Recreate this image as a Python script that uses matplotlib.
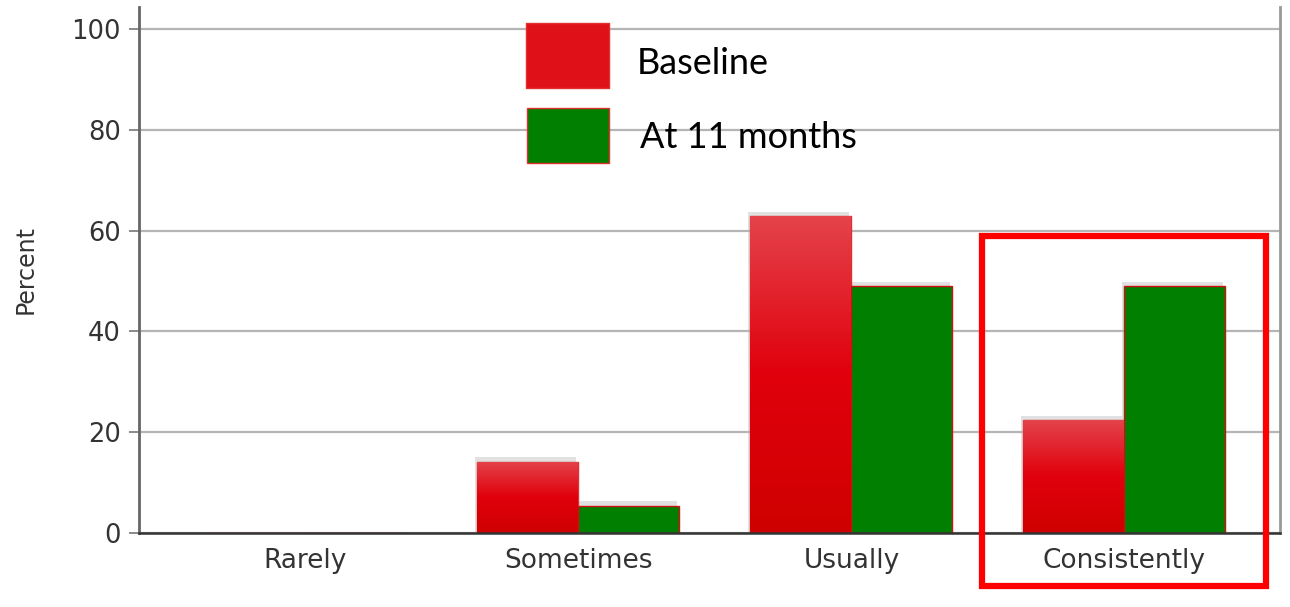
import numpy as np
import matplotlib
matplotlib.use("Agg")
import matplotlib.pyplot as plt
from matplotlib.patches import Rectangle
from matplotlib.colors import LinearSegmentedColormap

categories = ["Rarely", "Sometimes", "Usually", "Consistently"]
baseline = [0, 14.1, 62.9, 22.4]
month11 = [0, 5.4, 49.0, 49.0]
series_labels = ["Baseline", "At 11 months"]

RED_TOP = "#e4434b"
RED = "#e0000c"
RED_BOT = "#cf0000"
GREEN = "#007f00"

fig = plt.figure(figsize=(12.9, 6.07), dpi=100)
ax = fig.add_axes([139/1290, 1 - 533/607, (1280 - 139)/1290, (533 - 7)/607])

x = np.arange(len(categories))
w = 0.37

# soft shadow behind bars (up and to the left)
for vals, off in ((baseline, -w/2), (month11, w/2)):
    for xi, v in zip(x, vals):
        if v > 0:
            ax.add_patch(Rectangle((xi + off - w/2 - 0.008, 0), w, v + 0.9,
                                   facecolor="#bdbdbd", edgecolor="none",
                                   alpha=0.45, zorder=1.5))

red_bars = ax.bar(x - w/2, baseline, w, color=RED, edgecolor="#e03030",
                  linewidth=1, zorder=2)
green_bars = ax.bar(x + w/2, month11, w, color=GREEN, edgecolor="#d01010",
                    linewidth=1, zorder=2)

# vertical gradient on red bars
cmap = LinearSegmentedColormap.from_list("redgrad", [RED_TOP, RED, RED_BOT])
grad = np.linspace(0, 1, 256).reshape(-1, 1)
for b in red_bars:
    h = b.get_height()
    if h <= 0:
        continue
    x0 = b.get_x()
    im = ax.imshow(grad, cmap=cmap, aspect="auto", origin="upper",
                   extent=(x0, x0 + b.get_width(), 0, h), zorder=2.1)
    im.set_clip_path(b)

ax.set_xlim(-0.61, 3.57)
ax.set_ylim(0, 104.4)
ax.set_xticks(x)
ax.set_xticklabels(categories, fontsize=19, color="#333333", family="DejaVu Sans")
ax.set_yticks([0, 20, 40, 60, 80, 100])
ax.set_yticklabels(["0", "20", "40", "60", "80", "100"], fontsize=18.5,
                   color="#333333", family="DejaVu Sans")
ax.tick_params(axis="x", length=0, pad=11)
ax.tick_params(axis="y", length=7, width=1.2, color="#777777", pad=6)
ax.set_ylabel("Percent", fontsize=17, color="#333333", family="DejaVu Sans",
              labelpad=24)

ax.yaxis.grid(True, color="#b5b5b5", linewidth=1.6, zorder=0)
ax.set_axisbelow(True)
ax.spines["top"].set_visible(False)
ax.spines["left"].set_color("#666666")
ax.spines["left"].set_linewidth(2)
ax.spines["right"].set_color("#999999")
ax.spines["right"].set_linewidth(2)
ax.spines["bottom"].set_color("#333333")
ax.spines["bottom"].set_linewidth(1.8)

# highlight box around the last category
ax.add_patch(Rectangle((2.48, -10.5), 1.04, 69.4, fill=False, edgecolor="#ff0000",
                       linewidth=4.5, clip_on=False, zorder=5))

# legend, drawn by hand in figure pixels
W, H = 1290, 607
legend_boxes = [(526, 23, 83, 65), (527, 108, 82, 55)]
legend_colors = ["#e01018", GREEN]
legend_text_xy = [(637, 64), (640, 137)]
for (lx, ly, lw, lh), c, (tx, ty), lab in zip(legend_boxes, legend_colors,
                                              legend_text_xy, series_labels):
    fig.patches.append(Rectangle((lx / W, 1 - (ly + lh) / H), lw / W, lh / H,
                                 facecolor=c, edgecolor="#e03030", linewidth=1,
                                 transform=fig.transFigure, figure=fig))
    fig.text(tx / W, 1 - ty / H, lab, fontsize=26, family="Lato",
             va="center", ha="left", color="black")

fig.savefig("out.png", dpi=100)
